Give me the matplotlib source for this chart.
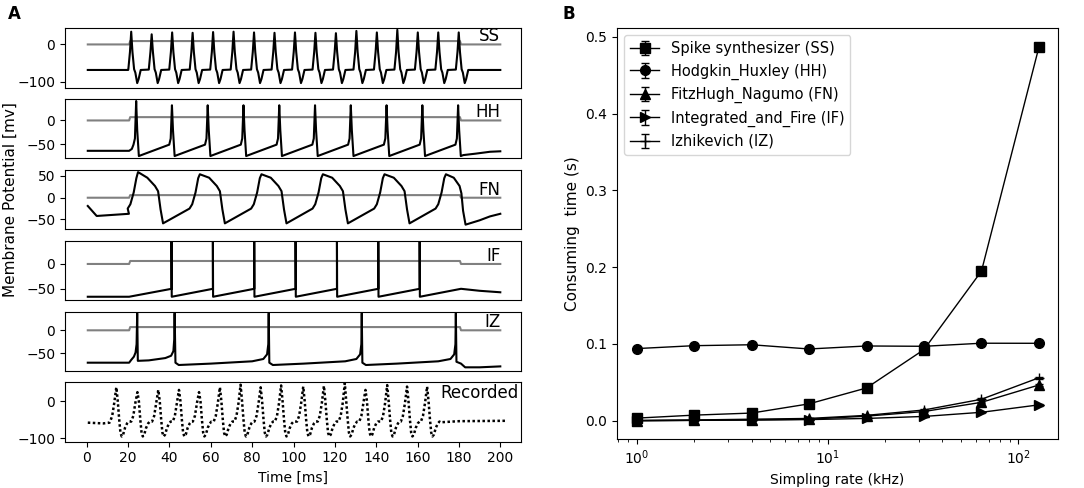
import matplotlib
matplotlib.use("Agg")
import matplotlib.pyplot as plt

# ---- panel A data ----
stim_t = [0.5, 20.5, 21.0, 180.5, 181.0, 200.0]
stim_lvl = {"SS": 9, "HH": 7, "FN": 6, "IF": 6, "IZ": 7}

ss_spikes = [21.5, 31.4, 41.3, 51.2, 61.1, 71.0, 80.9, 90.8, 100.7, 110.6,
             120.5, 130.4, 140.3, 150.2, 160.1, 170.0, 179.9]
ss_peaks = [34, 27, 32, 31, 33, 34, 32, 31, 32, 31, 30, 36, 32, 39, 32, 32, 32]
ss_shape_t = [-1.4, -0.6, 0, 0.6, 1.4, 2.0, 2.9, 3.6, 4.6]
ss_shape_v = [-67, -20, None, -20, -66, -75, -103, -92, -68]
ss_head = [(0.5, -68), (20.0, -68)]
ss_tail = [(186, -68), (200, -68)]

hh_spikes = [23.9, 41.2, 58.5, 75.8, 93.1, 110.4, 127.7, 145.0, 162.3, 179.6]
hh_peaks = [41, 32, 32, 32, 32, 32, 32, 32, 32, 32]
hh_shape_t = [-1.3, -0.6, 0, 0.5, 1.3, 2.5]
hh_shape_v = [-51, -38, None, -20, -75, -73]
hh_head = [(0.5, -64), (20.5, -64), (21.8, -60)]
hh_tail = [(188, -70), (195, -66), (200, -65)]

fn_spikes = [24.8, 54.7, 84.5, 114.2, 144.0]
fn_peaks = [59, 54, 54, 54, 54]
fn_shape_t = [-5.0, -3.7, -2.1, -0.8, 0, 4.5, 8.2, 9.7, 10.9, 12.1]
fn_shape_v = [-25, -15, 12, 45, None, 46, 27, 15, -27, -59]
fn_head = [(0.5, -19), (4.8, -42), (20.4, -37)]
fn_tail = [(168.7, -25), (170.0, -15), (171.6, 12), (172.9, 45), (173.7, 54),
           (177.5, 46), (180.3, 27), (181.2, 10), (182.0, -30), (183.2, -62),
           (190, -52), (195, -43), (200, -37)]

if_spikes = [41.0, 61.0, 81.0, 101.0, 121.0, 141.0, 161.0]
if_peaks = [50] * 7
if_shape_t = [0, 0, 0.1]
if_shape_v = [-50, None, -66]
if_head = [(0.5, -66), (20.5, -66)]
if_tail = [(181, -50), (190, -54), (200, -57)]

iz_t = [0.5, 20.5, 21.5, 22.8, 23.6, 24.1, 24.4, 24.7, 30, 38, 40.8, 41.9, 42.3,
        42.5, 42.9, 44.5, 60, 80, 85.4, 87.2, 87.8, 88.0, 88.3, 90, 105, 125,
        130.4, 132.2, 132.8, 133.0, 133.3, 135, 150, 170, 175.9, 177.7, 178.3,
        178.5, 178.8, 181, 183, 190, 200]
iz_v = [-70, -70, -64, -57, -48, -30, 37, -66, -65, -60, -55, -45, -20,
        37, -70, -75, -72, -67, -62, -52, -30, 37, -70, -75, -72, -67,
        -62, -52, -30, 37, -70, -75, -72, -67, -62, -52, -30, 37, -68,
        -72, -80, -80, -78]

rec_spikes = [14.3, 24.5, 34.6, 44.6, 54.3, 64.4, 74.4, 84.1, 94.0, 104.7,
              114.7, 124.8, 134.8, 145.3, 154.9, 164.6]
rec_peaks = [37, 24, 30, 30, 24, 37, 44, 37, 42, 39, 41, 48, 30, 43, 39, 39]
rec_shape_t = [-3.0, -2.0, -1.0, 0, 0.7, 1.4, 2.0, 2.6, 3.3, 4.2, 5.2, 6.0]
rec_shape_v = [-55, -40, -5, None, 0, -50, -85, -95, -90, -72, -60, -55]
rec_head = [(0.5, -58), (8, -60), (11, -58)]
rec_tail = [(171, -57), (180, -54), (203, -53)]

# ---- panel B data ----
rate = [1, 2, 4, 8, 16, 32, 64, 128]
t_ss = [0.0034, 0.0073, 0.010, 0.022, 0.0427, 0.0927, 0.195, 0.487]
t_hh = [0.094, 0.0978, 0.099, 0.0935, 0.0974, 0.097, 0.101, 0.1009]
t_fn = [0.0, 0.0005, 0.001, 0.002, 0.006, 0.012, 0.024, 0.0466]
t_if = [0.0, 0.0005, 0.001, 0.0015, 0.003, 0.0056, 0.011, 0.0207]
t_iz = [0.0005, 0.001, 0.002, 0.003, 0.007, 0.014, 0.028, 0.056]
err = [0.001] * 8


def train(head, spikes, peaks, sh_t, sh_v, tail):
    tt = [p[0] for p in head]
    vv = [p[1] for p in head]
    for s, pk in zip(spikes, peaks):
        for dt, dv in zip(sh_t, sh_v):
            tt.append(s + dt)
            vv.append(pk if dv is None else dv)
    tt += [p[0] for p in tail]
    vv += [p[1] for p in tail]
    return tt, vv


traces = {
    "SS": train(ss_head, ss_spikes, ss_peaks, ss_shape_t, ss_shape_v, ss_tail),
    "HH": train(hh_head, hh_spikes, hh_peaks, hh_shape_t, hh_shape_v, hh_tail),
    "FN": train(fn_head, fn_spikes, fn_peaks, fn_shape_t, fn_shape_v, fn_tail),
    "IF": train(if_head, if_spikes, if_peaks, if_shape_t, if_shape_v, if_tail),
    "IZ": (iz_t, iz_v),
    "Recorded": train(rec_head, rec_spikes, rec_peaks, rec_shape_t, rec_shape_v, rec_tail),
}
ylims = {"SS": (-115, 43), "HH": (-80, 45), "FN": (-72.5, 64), "IF": (-72.6, 46.8),
         "IZ": (-87.6, 40.6), "Recorded": (-109, 50.4)}
yticks = {"SS": [-100, 0], "HH": [-50, 0], "FN": [-50, 0, 50], "IF": [-50, 0],
          "IZ": [-50, 0], "Recorded": [-100, 0]}

fig = plt.figure(figsize=(10.84, 4.88), dpi=100)
gs = fig.add_gridspec(6, 1, left=0.060, right=0.4806, top=0.942, bottom=0.095,
                      hspace=0.194)

names = ["SS", "HH", "FN", "IF", "IZ", "Recorded"]
for i, name in enumerate(names):
    ax = fig.add_subplot(gs[i])
    tt, vv = traces[name]
    if name == "Recorded":
        ax.plot(tt, vv, color="black", lw=1.8, linestyle=(0, (1, 1)))
        ax.text(209, -3, name, ha="right", va="bottom", fontsize=12)
    else:
        lvl = stim_lvl[name]
        ax.plot(stim_t, [0, 0, lvl, lvl, 0, 0], color="gray", lw=1.5)
        ax.plot(tt, vv, color="black", lw=1.5)
        ax.text(200, -2, name, ha="right", va="bottom", fontsize=12)
    ax.set_xlim(-10.5, 210)
    ax.set_ylim(*ylims[name])
    ax.set_yticks(yticks[name])
    if i < 5:
        ax.set_xticks([])
    else:
        ax.set_xticks(range(0, 201, 20))
        ax.set_xlabel("Time [ms]")

# y label sits beside the FN panel in the original
fig.text(0.003, 0.591, "Membrane Potential [mv]", rotation=90, va="center",
         ha="left", fontsize=11)
fig.text(0.007, 0.99, "A", fontsize=12, fontweight="bold", va="top")
fig.text(0.519, 0.99, "B", fontsize=12, fontweight="bold", va="top")

# ---- panel B ----
axb = fig.add_axes([0.5692, 0.1004, 0.4068, 0.8422])
series = [
    (t_ss, "s", "Spike synthesizer (SS)"),
    (t_hh, "o", "Hodgkin_Huxley (HH)"),
    (t_fn, "^", "FitzHugh_Nagumo (FN)"),
    (t_if, ">", "Integrated_and_Fire (IF)"),
    (t_iz, "+", "Izhikevich (IZ)"),
]
for vals, mk, lab in series:
    axb.errorbar(rate, vals, yerr=err, color="black", marker=mk, markersize=7,
                 lw=1, capsize=3, label=lab)
axb.set_xscale("log")
axb.set_xlim(0.79, 161)
axb.set_ylim(-0.0238, 0.5117)
axb.set_yticks([0.0, 0.1, 0.2, 0.3, 0.4, 0.5])
axb.set_xlabel("Simpling rate (kHz)")
axb.set_ylabel("Consuming  time (s)", fontsize=11)
axb.legend(loc="upper left", fontsize=10.5)

fig.savefig("out.png", dpi=100)
